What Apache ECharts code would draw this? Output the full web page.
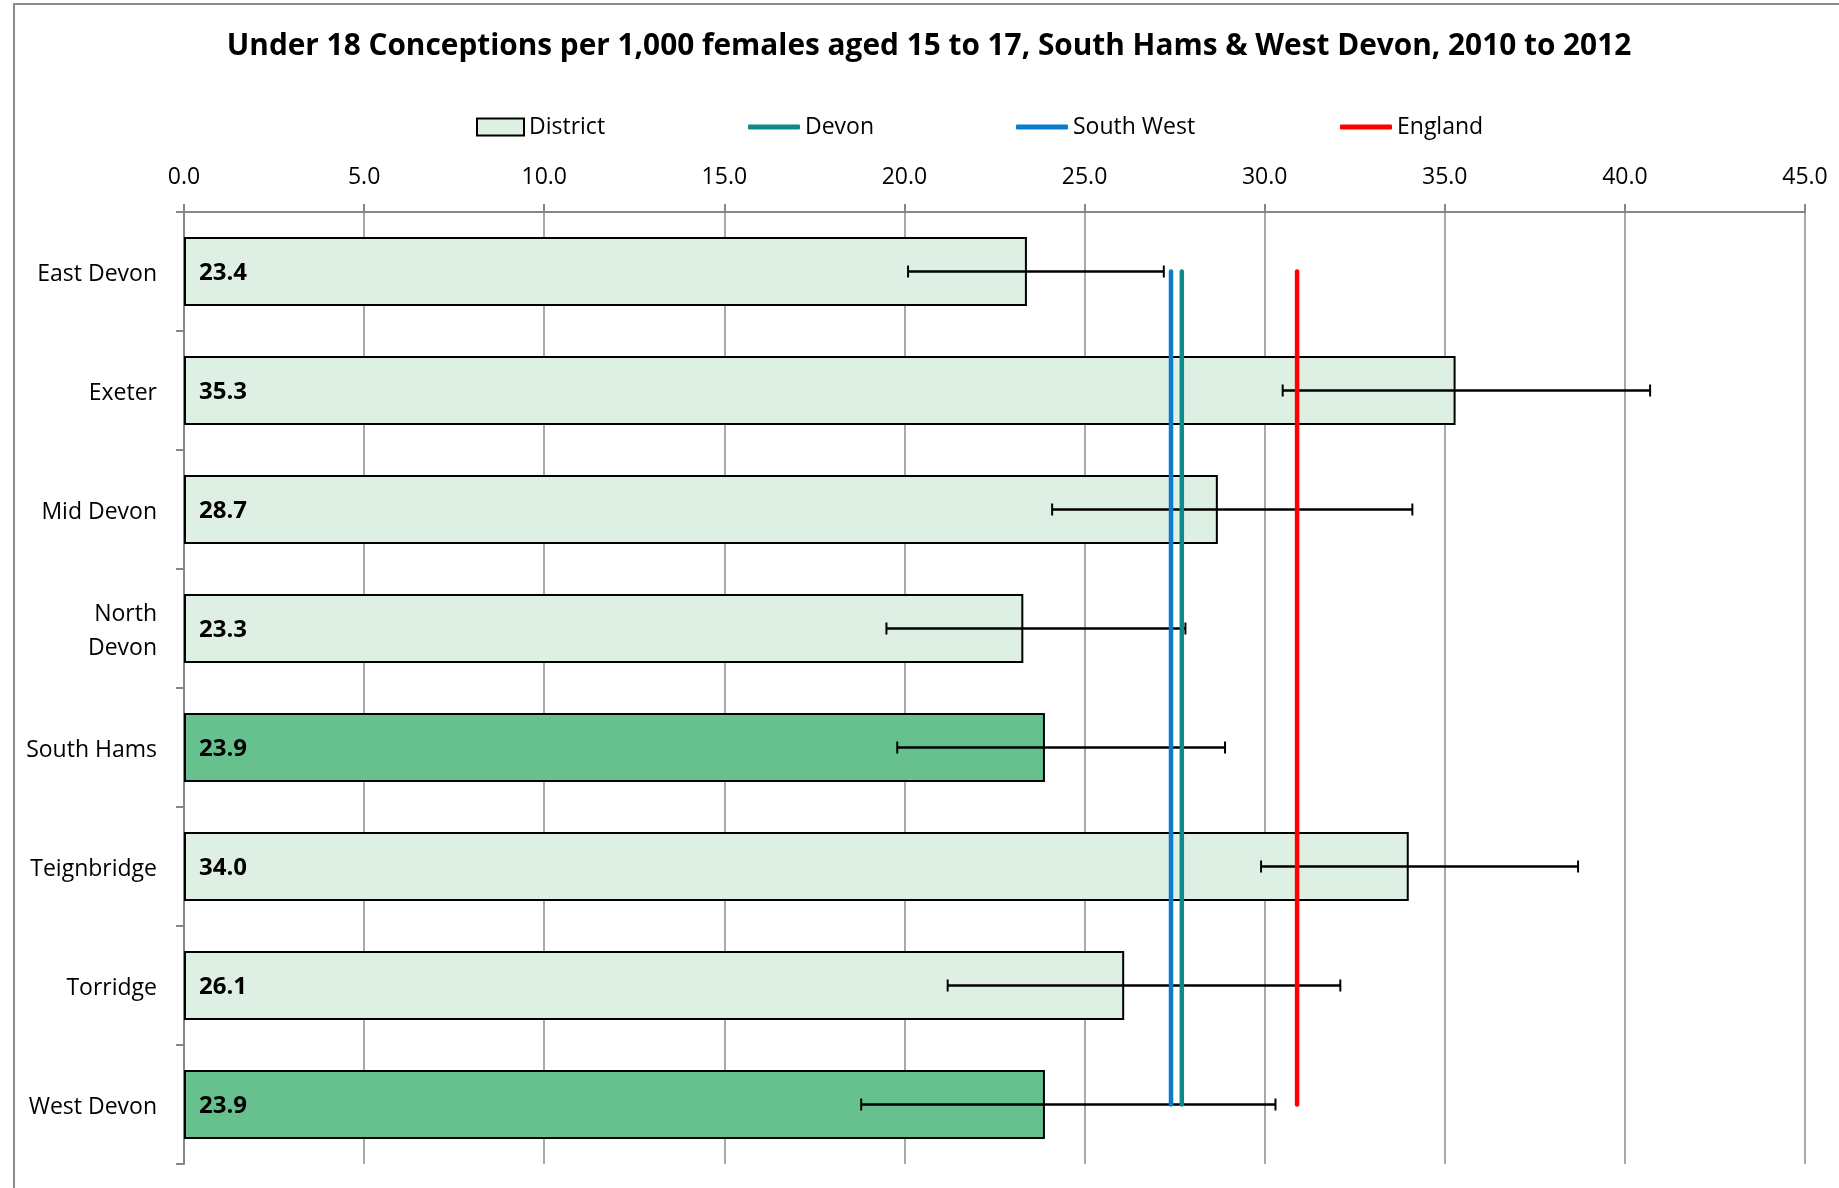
<!DOCTYPE html>
<html><head><meta charset="utf-8">
<script src="https://cdn.jsdelivr.net/npm/echarts@6/dist/echarts.min.js"></script>
<style>html,body{margin:0;padding:0;background:#fff}#c{width:1839px;height:1188px}</style>
</head><body><div id="c"></div>
<script>
const titleText = 'Under 18 Conceptions per 1,000 females aged 15 to 17, South Hams & West Devon, 2010 to 2012';
const categories = ['East Devon', 'Exeter', 'Mid Devon', 'North Devon', 'South Hams', 'Teignbridge', 'Torridge', 'West Devon'];
const rates = [23.4, 35.3, 28.7, 23.3, 23.9, 34.0, 26.1, 23.9];
const ciLower = [20.1, 30.5, 24.1, 19.5, 19.8, 29.9, 21.2, 18.8];
const ciUpper = [27.2, 40.7, 34.1, 27.8, 28.9, 38.7, 32.1, 30.3];
const highlighted = ['South Hams', 'West Devon'];
const devonRate = 27.7;
const southWestRate = 27.4;
const englandRate = 30.9;
const axisMin = 0, axisMax = 45, axisStep = 5;

const FONT = 'Open Sans';
const chart = echarts.init(document.getElementById('c'));

function refLine(name, value, color) {
  return {
    name: name, type: 'line', symbol: 'none', z: 5,
    data: [[value, categories[0]], [value, categories[categories.length - 1]]],
    lineStyle: { color: color, width: 4.5, cap: 'round' },
    itemStyle: { color: color },
    color: color
  };
}
function legendFor(name, left, isBar) {
  return {
    data: [name], left: left, top: 112, padding: 0,
    icon: isBar ? 'rect' : 'roundRect',
    itemWidth: isBar ? 47 : 52, itemHeight: isBar ? 17 : 5,
    textStyle: { fontFamily: FONT, fontSize: 23, color: '#000', lineHeight: 30 }
  };
}

const option = {
  animation: false,
  backgroundColor: '#ffffff',
  graphic: [
    { type: 'rect', silent: true, shape: { x: 14, y: 4, width: 1900, height: 1300 },
      style: { fill: 'none', stroke: '#8c8c8c', lineWidth: 2 } },
    { type: 'text', silent: true, x: 929, y: 47,
      style: { text: titleText, font: 'bold 29.8px "Open Sans"', textAlign: 'center', textVerticalAlign: 'middle', fill: '#000' } }
  ],
  legend: [
    legendFor('District', 476, true),
    legendFor('Devon', 748, false),
    legendFor('South West', 1016, false),
    legendFor('England', 1340, false)
  ],
  grid: { left: 184, right: 34, top: 212, bottom: 24 },
  xAxis: {
    type: 'value', position: 'top', min: axisMin, max: axisMax, interval: axisStep,
    axisLine: { show: true, lineStyle: { color: '#868686', width: 2 } },
    axisTick: { show: true, length: 8, lineStyle: { color: '#868686', width: 2 } },
    splitLine: { show: true, lineStyle: { color: '#8c8c8c', width: 1.5 } },
    axisLabel: { formatter: v => v.toFixed(1), fontFamily: FONT, fontSize: 23, color: '#000', margin: 23 }
  },
  yAxis: {
    type: 'category', inverse: true, data: categories,
    axisLine: { show: true, lineStyle: { color: '#868686', width: 2 } },
    axisTick: { show: true, length: 8, lineStyle: { color: '#868686', width: 2 } },
    axisLabel: {
      fontFamily: FONT, fontSize: 23, color: '#000', margin: 27,
      formatter: v => v.split(v === 'North Devon' ? ' ' : '\u0000').map(s => '{a|' + s + '}').join('\n'),
      rich: { a: { fontFamily: FONT, fontSize: 23, color: '#000', lineHeight: 34, padding: [5, 0, 0, 0] } }
    }
  },
  series: [
    {
      name: 'District', type: 'bar', barWidth: '58%', z: 2,
      itemStyle: { color: '#DEEFE3', borderColor: '#000', borderWidth: 2 },
      data: rates.map((v, i) => highlighted.includes(categories[i])
        ? { value: v, itemStyle: { color: '#66C18E' } } : v),
      label: {
        show: true, position: 'insideLeft', distance: 15, offset: [0, 2],
        fontFamily: FONT, fontSize: 24, fontWeight: 'bold', color: '#000',
        formatter: p => Number(p.value).toFixed(1)
      }
    },
    {
      name: 'CI', type: 'custom', z: 4,
      encode: { x: [0, 1], y: 2 },
      data: categories.map((c, i) => [ciLower[i], ciUpper[i], i]),
      renderItem: (params, api) => {
        const i = api.value(2);
        const a = api.coord([api.value(0), i]);
        const b = api.coord([api.value(1), i]);
        const h = 6;
        return { type: 'group', children: [
          { type: 'line', shape: { x1: a[0], y1: a[1], x2: b[0], y2: b[1] }, style: { stroke: '#000', lineWidth: 2.5 } },
          { type: 'line', shape: { x1: a[0], y1: a[1] - h, x2: a[0], y2: a[1] + h }, style: { stroke: '#000', lineWidth: 2 } },
          { type: 'line', shape: { x1: b[0], y1: b[1] - h, x2: b[0], y2: b[1] + h }, style: { stroke: '#000', lineWidth: 2 } }
        ] };
      }
    },
    refLine('Devon', devonRate, '#0E8A8A'),
    refLine('South West', southWestRate, '#0A7CD0'),
    refLine('England', englandRate, '#FF0000')
  ]
};
chart.setOption(option);
</script>
</body></html>
